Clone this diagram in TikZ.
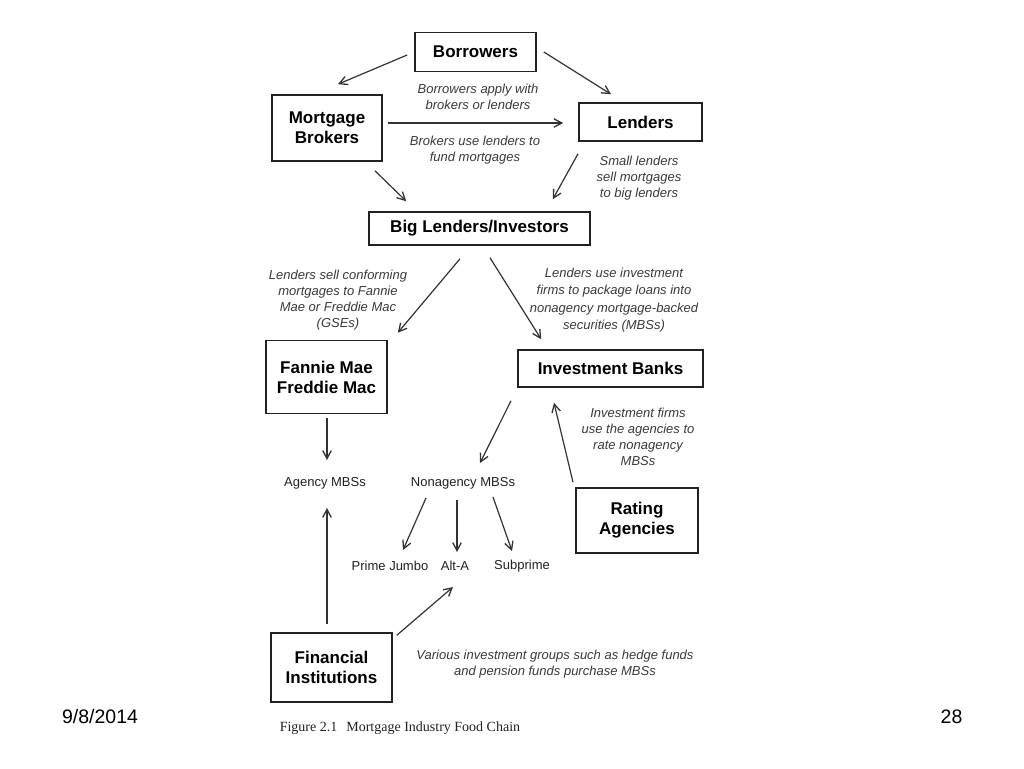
\documentclass[tikz,border=0pt]{standalone}
\usepackage{fontspec}
\setmainfont{Liberation Sans}
\newfontfamily\capfont{Liberation Serif}
\usetikzlibrary{arrows.meta,calc}
\definecolor{ink}{HTML}{222222}
\definecolor{linec}{HTML}{333333}
\definecolor{labc}{HTML}{3A3A3A}
\begin{document}
\begin{tikzpicture}[x=1pt,y=-1pt,
  box/.style={draw=ink,line width=1.6pt,inner sep=0pt,align=center,
    font=\fontsize{17}{20}\selectfont\bfseries,text=black},
  lab/.style={align=center,font=\fontsize{13}{16}\selectfont\itshape,text=labc,inner sep=0pt},
  lab2/.style={lab,font=\fontsize{13}{17.5}\selectfont\itshape},
  plain/.style={font=\fontsize{13}{16}\selectfont,text=ink,inner sep=0pt},
  arr/.style={draw=linec,line width=1.2pt,-{Straight Barb[length=8pt,width=8.5pt,line width=1.3pt]}}]
\useasboundingbox[fill=white] (0,0) rectangle (1024,768);

% boxes
\node[box,minimum width=121pt,minimum height=39pt] (bor) at (475.5,52) {Borrowers};
\node[box,minimum width=110pt,minimum height=66pt] (mb) at (327,128) {Mortgage\\Brokers};
\node[box,minimum width=123pt,minimum height=38pt] (len) at (640.5,122) {Lenders};
\node[box,minimum width=221pt,minimum height=33pt] (big) at (479.5,228.5) {Big Lenders/Investors};
\node[box,minimum width=121pt,minimum height=73pt] (fan) at (326.5,377) {Fannie Mae\\Freddie Mac};
\node[box,minimum width=185pt,minimum height=37pt] (ib) at (610.5,368.5) {Investment Banks};
\node[box,minimum width=122pt,minimum height=65pt] (rat) at (637,520.5) {Rating\\Agencies};
\node[box,minimum width=121pt,minimum height=69pt] (fin) at (331.5,667.5) {Financial\\Institutions};

% plain text nodes
\node[plain] (ag) at (325,483) {Agency MBSs};
\node[plain] (non) at (463,483) {Nonagency MBSs};
\node[plain] (pj) at (390,566) {Prime Jumbo};
\node[plain] (alt) at (455,566) {Alt-A};
\node[plain] (sub) at (522,566) {Subprime};

% labels
\node[lab] (l1) at (478,97) {Borrowers apply with\\brokers or lenders};
\node[lab] (l2) at (475,150) {Brokers use lenders to\\fund mortgages};
\node[lab] (l3) at (639,178.5) {Small lenders\\sell mortgages\\to big lenders};
\node[lab] (l4) at (338,300) {Lenders sell conforming\\mortgages to Fannie\\Mae or Freddie Mac\\(GSEs)};
\node[lab2] (l5) at (614,300) {Lenders use investment\\firms to package loans into\\nonagency mortgage-backed\\securities (MBSs)};
\node[lab] (l6) at (638,437) {Investment firms\\use the agencies to\\rate nonagency\\MBSs};
\node[lab] (l7) at (555,664) {Various investment groups such as hedge funds\\and pension funds purchase MBSs};

% arrows
\draw[arr] ([shift={(-7,3)}]bor.west) -- ([shift={(11,-10)}]mb.north);
\draw[arr] ([shift={(7,0)}]bor.east) -- ([shift={(-29.5,-8)}]len.north);
\draw[arr] ([shift={(5,-5)}]mb.east) -- ([shift={(-15,1)}]len.west);
\draw[arr] ([shift={(48,9)}]mb.south) -- ([shift={(38,-10)}]big.north west);
\draw[arr] ([shift={(-62.5,12)}]len.south) -- ([shift={(-38,-12)}]big.north east);
\draw[arr] ([shift={(-19.5,13)}]big.south) -- ([shift={(10,-7)}]fan.north east);
\draw[arr] ([shift={(10.5,12)}]big.south) -- ([shift={(24,-10)}]ib.north west);
\draw[arr] ([shift={(0.5,4)}]fan.south) -- ([shift={(2,-23)}]ag.center);
\draw[arr] ([shift={(-99.5,13)}]ib.south) -- ([shift={(17,-20)}]non.center);
\draw[arr] ([shift={(-64,-5)}]rat.north) -- ([shift={(-56.5,15)}]ib.south);
\draw[arr] ([shift={(-37,15)}]non.center) -- ([shift={(13,-16)}]pj.center);
\draw[arr] ([shift={(-6,17)}]non.center) -- ([shift={(2,-14)}]alt.center);
\draw[arr] ([shift={(30,14)}]non.center) -- ([shift={(-10,-15)}]sub.center);
\draw[arr] ([shift={(-4.5,-8)}]fin.north) -- ([shift={(2,25)}]ag.center);
\draw[arr] ([shift={(4,3)}]fin.north east) -- ([shift={(-2,21)}]alt.center);

% caption and slide footer
\node[inner sep=0pt,font=\capfont\fontsize{14}{16}\selectfont,text=ink] (cap) at (400,728) {Figure 2.1\hspace{9pt}Mortgage Industry Food Chain};
\node[inner sep=0pt,font=\fontsize{19.5}{22}\selectfont] (date) at (100,717) {9/8/2014};
\node[inner sep=0pt,font=\fontsize{19.5}{22}\selectfont] (pg) at (951.5,717) {28};
\end{tikzpicture}
\end{document}
